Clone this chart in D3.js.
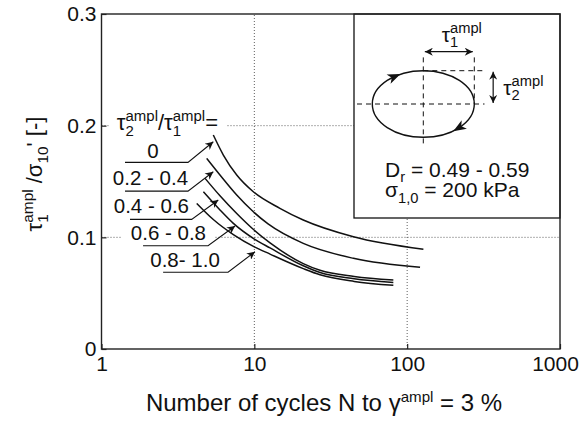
<!DOCTYPE html>
<html>
<head>
<meta charset="utf-8">
<script src="https://cdn.jsdelivr.net/npm/d3@7"></script>
<style>
  body { margin: 0; background: #fff; }
  svg { font-family: "Liberation Sans", Arial, sans-serif; }
  svg text { white-space: pre; }
</style>
</head>
<body>
<svg id="svg" width="582" height="421"></svg>
<script>
// cycles N to 3% strain vs. normalised amplitude, one curve per ratio class
const ratioLabels = ["0", "0.2 - 0.4", "0.4 - 0.6", "0.6 - 0.8", "0.8- 1.0"];
const curveRatio0 = [[5.39, 0.1916], [6.27, 0.1737], [7.67, 0.1558], [9.85, 0.1408], [14.7, 0.1260], [20.9, 0.1155], [44.5, 0.1005], [127.7, 0.0893]];
const curveRatio02 = [[4.88, 0.1707], [5.96, 0.1558], [7.67, 0.1379], [9.85, 0.1229], [12.3, 0.1120], [20.9, 0.0946], [44.5, 0.0812], [121.4, 0.0731]];
const curveRatio04 = [[4.76, 0.1528], [5.96, 0.1372], [7.67, 0.1213], [10.0, 0.1063], [12.67, 0.0950], [20.9, 0.0765], [26.9, 0.0705], [45, 0.0650], [81.2, 0.0618]];
const curveRatio06 = [[4.64, 0.1408], [5.96, 0.1245], [7.29, 0.1125], [10.0, 0.0985], [12.67, 0.0905], [20.9, 0.0745], [26.9, 0.0685], [45, 0.0630], [81.2, 0.0596]];
const curveRatio08 = [[4.20, 0.1304], [5.39, 0.1160], [7.29, 0.1025], [10.0, 0.0915], [12.67, 0.0850], [20.9, 0.0720], [26.9, 0.0665], [45, 0.0605], [81.2, 0.0570]];
const curves = [curveRatio0, curveRatio02, curveRatio04, curveRatio06, curveRatio08];

// label annotations in data units: text centre N, baseline, underline N range + level, arrow tip
const labelCenterN = [2.17, 2.09, 2.12, 2.74, 3.52];
const labelBaseline = [0.171, 0.1468, 0.1218, 0.0976, 0.0734];
const underlineFromN = [1.425, 1.425, 1.536, 1.87, 2.53];
const underlineToN = [3.68, 3.68, 3.89, 4.98, 6.73];
const underlineLevel = [0.1671, 0.1414, 0.1161, 0.0925, 0.0687];
const arrowTip = [[5.39, 0.1856], [5.39, 0.1587], [5.81, 0.1334], [7.48, 0.1101], [10.1, 0.0871]];

const xTicks = [1, 10, 100, 1000];
const yTicks = [0, 0.1, 0.2, 0.3];
const xGrid = [10, 100];
const yGrid = [0.1, 0.2];

let svg = d3.select("svg");
let margin = {top: 14, right: 22, bottom: 72, left: 101.5};
let width = 582 - margin.left - margin.right;
let height = 421 - margin.top - margin.bottom;

let x = d3.scaleLog().domain([1, 1000]).range([margin.left, margin.left + width]);
let y = d3.scaleLinear().domain([0, 0.3]).range([margin.top + height, margin.top]);

// text made of pieces: sub/superscripts, "over" pieces stack on the previous one
function rich(parent, px, py, parts, anchor, size, small = 0.7) {
  let g = parent.append("g");
  let cursor = 0, segStart = 0, segEnd = 0;
  parts.forEach(p => {
    let x0;
    if (p.over) {
      x0 = segStart;
    } else {
      segStart = cursor; segEnd = cursor; x0 = cursor;
    }
    let t = g.append("text")
      .attr("x", x0)
      .attr("y", p.dy || 0)
      .attr("font-size", p.small ? size * small : size)
      .attr("fill", "#111")
      .text(p.t);
    let w = t.node().getComputedTextLength();
    segEnd = Math.max(segEnd, x0 + w);
    cursor = segEnd;
  });
  let off = anchor == "middle" ? -cursor / 2 : anchor == "end" ? -cursor : 0;
  g.attr("transform", "translate(" + (px + off) + "," + py + ")");
  return g;
}

function whiteBehind(g, padX, padY) {
  let b = g.node().getBBox();
  g.insert("rect", ":first-child")
    .attr("x", b.x - padX).attr("y", b.y - padY)
    .attr("width", b.width + 2 * padX).attr("height", b.height + 2 * padY)
    .attr("fill", "white");
}

// grid
let grid = svg.append("g").attr("stroke", "#333").attr("stroke-width", 0.8).attr("stroke-dasharray", "1,2");
grid.selectAll(".gx").data(xGrid).enter().append("line")
  .attr("x1", d => x(d)).attr("x2", d => x(d))
  .attr("y1", y(0)).attr("y2", y(0.3));
grid.selectAll(".gy").data(yGrid).enter().append("line")
  .attr("x1", x(1)).attr("x2", x(1000))
  .attr("y1", d => y(d)).attr("y2", d => y(d));

// inset box with the stress path schematic
let box = {x0: 354, y0: margin.top, x1: x(1000), y1: 218};
svg.append("rect")
  .attr("x", box.x0).attr("y", box.y0)
  .attr("width", box.x1 - box.x0).attr("height", box.y1 - box.y0)
  .attr("fill", "white").attr("stroke", "#111").attr("stroke-width", 1.3);

let sx = d3.scaleLinear().domain([-1, 1]).range([372.3, 474.3]);
let sy = d3.scaleLinear().domain([-1, 1]).range([137.3, 70.7]);
let inset = svg.append("g");
let dashed = [
  [[0, 1.4], [0, -1.3]],
  [[-1.3, 0], [1.2, 0]],
  [[1, 1.4], [1, 0]],
  [[0, 1], [1.2, 1]]
];
inset.selectAll(".dash").data(dashed).enter().append("line")
  .attr("x1", d => sx(d[0][0])).attr("y1", d => sy(d[0][1]))
  .attr("x2", d => sx(d[1][0])).attr("y2", d => sy(d[1][1]))
  .attr("stroke", "#111").attr("stroke-width", 1).attr("stroke-dasharray", "5,4");
inset.append("ellipse")
  .attr("cx", sx(0)).attr("cy", sy(0))
  .attr("rx", sx(1) - sx(0)).attr("ry", sy(-1) - sy(0))
  .attr("fill", "none").attr("stroke", "#111").attr("stroke-width", 1.4);
// direction heads on the ellipse (clockwise)
[123.7, -46.6].forEach(deg => {
  let t = deg * Math.PI / 180;
  let px = sx(Math.cos(t)), py = sy(Math.sin(t));
  let ang = Math.atan2((sy(-1) - sy(0)) * Math.cos(t), (sx(1) - sx(0)) * Math.sin(t)) * 180 / Math.PI;
  inset.append("path")
    .attr("d", "M6,0 L-7,-5 L-3.5,0 L-7,5 Z")
    .attr("fill", "#111")
    .attr("transform", "translate(" + px + "," + py + ") rotate(" + ang + ")");
});

let defs = svg.append("defs");
defs.append("marker").attr("id", "head")
  .attr("viewBox", "0 0 10 10").attr("refX", 10).attr("refY", 5)
  .attr("markerUnits", "userSpaceOnUse").attr("markerWidth", 10).attr("markerHeight", 8)
  .attr("orient", "auto-start-reverse")
  .append("path").attr("d", "M0,0 L10,5 L0,10 L3,5 Z").attr("fill", "#111");

inset.append("line")
  .attr("x1", sx(0.03)).attr("x2", sx(0.97)).attr("y1", sy(1.57)).attr("y2", sy(1.57))
  .attr("stroke", "#111").attr("stroke-width", 1.2)
  .attr("marker-start", "url(#head)").attr("marker-end", "url(#head)");
inset.append("line")
  .attr("x1", sx(1.37)).attr("x2", sx(1.37)).attr("y1", sy(0.97)).attr("y2", sy(0.03))
  .attr("stroke", "#111").attr("stroke-width", 1.2)
  .attr("marker-start", "url(#head)").attr("marker-end", "url(#head)");

rich(inset, 441.7, 42, [{t: "τ"}, {t: "1", small: true, dy: 5}, {t: "ampl", small: true, dy: -9, over: true}], "start", 21);
rich(inset, 503.3, 95, [{t: "τ"}, {t: "2", small: true, dy: 5}, {t: "ampl", small: true, dy: -9, over: true}], "start", 21);
rich(inset, 385, 177, [{t: "D"}, {t: "r", small: true, dy: 5}, {t: " = 0.49 - 0.59"}], "start", 21);
rich(inset, 385, 197, [{t: "σ"}, {t: "1,0", small: true, dy: 6}, {t: " = 200 kPa"}], "start", 21);

// ratio labels (backgrounds hide the grid)
let head = rich(svg, x(1.26), y(0.196), [
  {t: "τ"}, {t: "2", small: true, dy: 6}, {t: "ampl", small: true, dy: -9, over: true},
  {t: "/τ"}, {t: "1", small: true, dy: 6}, {t: "ampl", small: true, dy: -9, over: true},
  {t: "="}
], "start", 22, 0.68);
whiteBehind(head, 8, 0);

ratioLabels.forEach((lab, i) => {
  let g = rich(svg, x(labelCenterN[i]), y(labelBaseline[i]), [{t: lab}], "middle", 20.5);
  whiteBehind(g, 9, 0);
});

// curves
let line = d3.line()
  .x(d => x(d[0]))
  .y(d => y(d[1]))
  .curve(d3.curveMonotoneX);
svg.selectAll(".curve").data(curves).enter().append("path")
  .attr("fill", "none")
  .attr("stroke", "#111")
  .attr("stroke-width", 1.5)
  .attr("d", line);

// underline + leader arrow per label
ratioLabels.forEach((lab, i) => {
  svg.append("polyline")
    .attr("points", [
      [x(underlineFromN[i]), y(underlineLevel[i])],
      [x(underlineToN[i]), y(underlineLevel[i])],
      [x(arrowTip[i][0]), y(arrowTip[i][1])]
    ].map(p => p.join(",")).join(" "))
    .attr("fill", "none").attr("stroke", "#111").attr("stroke-width", 1.1)
    .attr("marker-end", "url(#head)");
});

// frame and axes
svg.append("rect")
  .attr("x", x(1)).attr("y", y(0.3))
  .attr("width", x(1000) - x(1)).attr("height", y(0) - y(0.3))
  .attr("fill", "none").attr("stroke", "#222").attr("stroke-width", 1.4);

let ax = svg.append("g")
  .attr("transform", "translate(0," + y(0) + ")")
  .call(d3.axisBottom(x).tickValues(xTicks).tickFormat(d3.format("d")).tickSize(-5).tickPadding(7));
let ay = svg.append("g")
  .attr("transform", "translate(" + x(1) + ",0)")
  .call(d3.axisLeft(y).tickValues(yTicks).tickFormat(d => d == 0 ? "0" : d3.format(".1f")(d)).tickSize(-5).tickPadding(5));
[ax, ay].forEach(a => {
  a.select(".domain").remove();
  a.selectAll("line").attr("stroke", "#222").attr("stroke-width", 1.2);
  a.selectAll("text").attr("font-size", 21).attr("fill", "#111")
    .attr("font-family", "Liberation Sans, Arial, sans-serif");
});
ax.selectAll(".tick text").filter(d => d == 1000).attr("dx", -5);

// axis titles
rich(svg, 324, 411, [
  {t: "Number of cycles N to γ"}, {t: "ampl", small: true, dy: -9}, {t: " = 3 %"}
], "middle", 24, 0.63);

let yl = svg.append("g").attr("transform", "translate(42,174) rotate(-90)");
rich(yl, 0, 0, [
  {t: "τ"}, {t: "1", small: true, dy: 6}, {t: "ampl", small: true, dy: -9, over: true},
  {t: " /σ"}, {t: "10", small: true, dy: 6}, {t: "' [-]"}
], "middle", 22);
</script>
</body>
</html>
